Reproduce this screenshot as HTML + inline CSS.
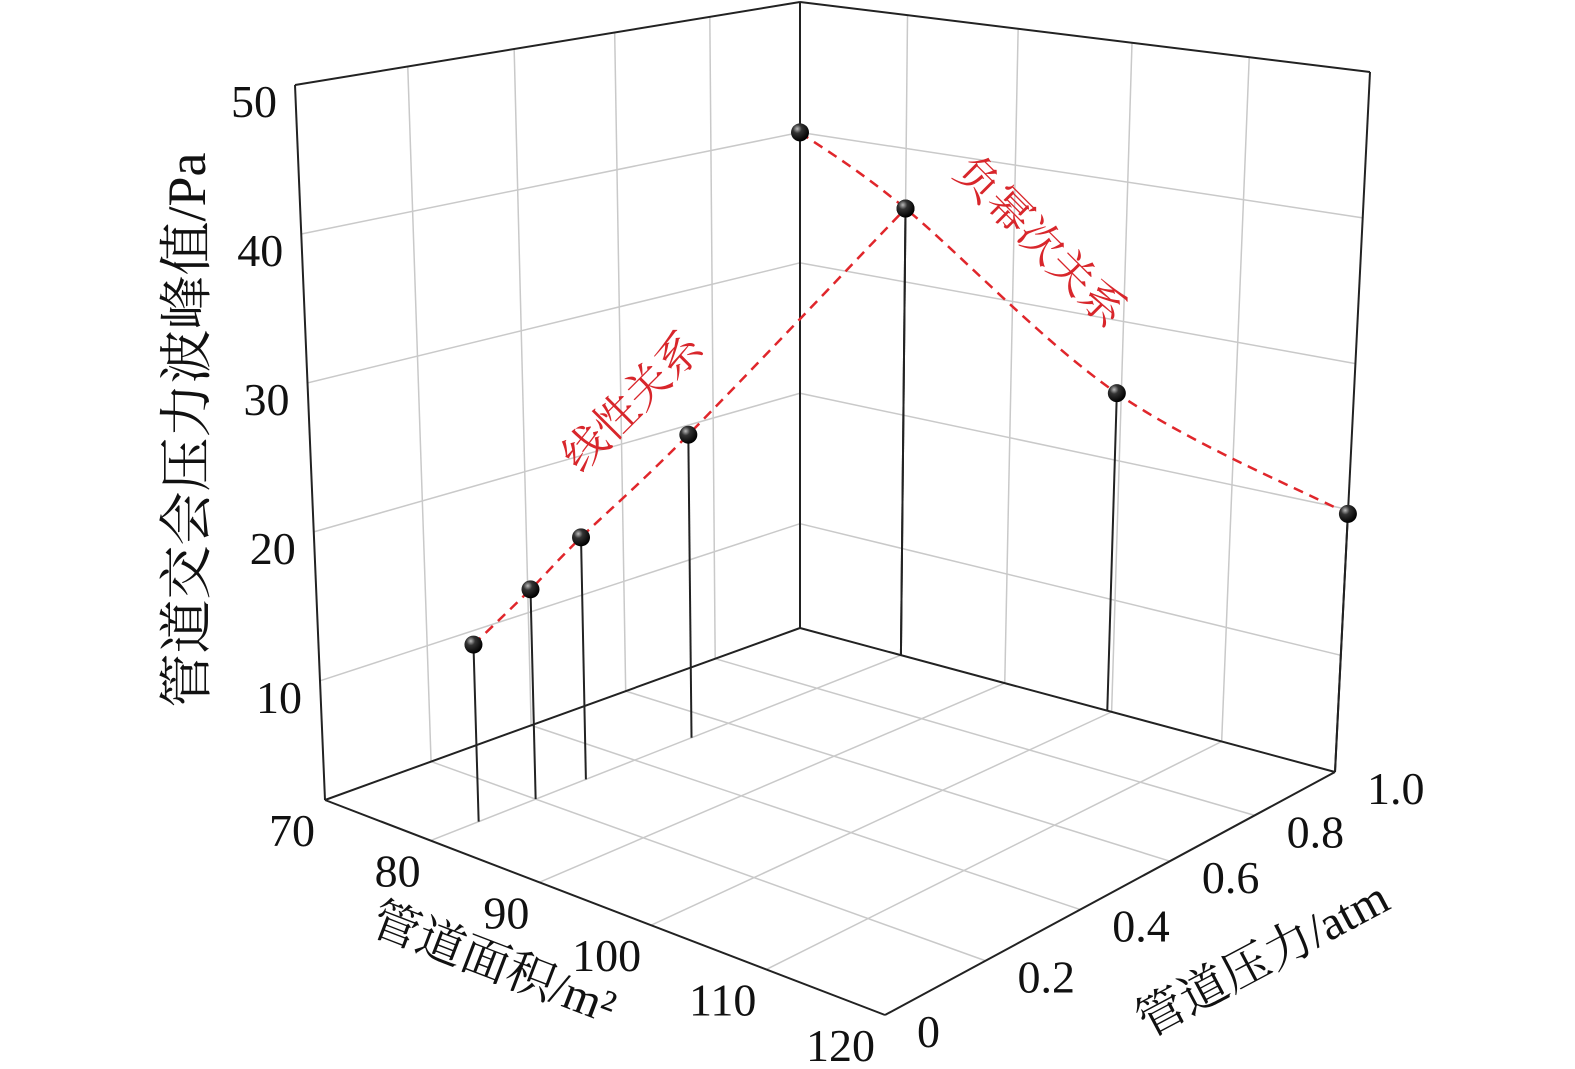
<!DOCTYPE html>
<html><head><meta charset="utf-8"><style>
html,body{margin:0;padding:0;background:#fff}
svg{display:block}
text{font-family:"Liberation Serif","Noto Serif CJK SC",serif;fill:#111}
.cjk{font-family:"Liberation Serif","Noto Serif CJK SC","Noto Sans CJK SC",serif}
</style></head><body>
<svg id="chart" width="1575" height="1069" viewBox="0 0 1575 1069" xmlns="http://www.w3.org/2000/svg">
<defs>
<radialGradient id="ball" cx="0.35" cy="0.3" r="0.7">
<stop offset="0" stop-color="#bbb"/><stop offset="0.35" stop-color="#333"/><stop offset="1" stop-color="#000"/>
</radialGradient>
</defs>
<g id="grid"></g>
<g id="frame"></g>
<g id="marks"></g>
<g id="labels"></g>
<text class="cjk" transform="translate(205,430) rotate(-90)" text-anchor="middle" font-size="54">管道交会压力波峰值/Pa</text>
<text class="cjk" transform="translate(488,978) rotate(21)" text-anchor="middle" font-size="48">管道面积/m²</text>
<text class="cjk" transform="translate(1270,973) rotate(-28)" text-anchor="middle" font-size="48">管道压力/atm</text>
<text class="cjk" transform="translate(643,412) rotate(-45)" text-anchor="middle" font-size="44" style="fill:#d8262b">线性关系</text>
<text class="cjk" transform="translate(1030,252) rotate(45)" text-anchor="middle" font-size="44" style="fill:#d8262b">负幂次关系</text>
</svg>
<script>
const linArea=[80,80,80,80,80];
const linPress=[0.09,0.2,0.3,0.52,1.0];
const linZ=[13.8,16.2,18.6,23.4,35.5];
const powArea=[70,80,99.6,120];
const powPress=[1,1,1,1];
const powZ=[40,35.5,24.8,19.7];
const zTicks=[10,20,30,40,50];
const areaTicks=[70,80,90,100,110,120];
const pressTicks=[0,0.2,0.4,0.6,0.8,1.0];
const pressLabels=["0","0.2","0.4","0.6","0.8","1.0"];
const zmin=2,zmax=50;
const L=[325,800],F=[885,1015],B=[800,628],R=[1335,772];
const Lt=[295,85],Ft=[885,225],Bt=[800,2],Rt=[1370,72];
function bil(a,b,c,d,s,t,i){return (1-s)*(1-t)*a[i]+s*(1-t)*b[i]+(1-s)*t*c[i]+s*t*d[i];}
function warp(u,k){return u*k/(1+(k-1)*u);}
function P(a,p,z){const s=warp((a-70)/50,0.93),t=warp(p,1.15),w=(z-zmin)/(zmax-zmin);
 const bx=bil(L,F,B,R,s,t,0),by=bil(L,F,B,R,s,t,1),tx=bil(Lt,Ft,Bt,Rt,s,t,0),ty=bil(Lt,Ft,Bt,Rt,s,t,1);
 return [bx+(tx-bx)*w,by+(ty-by)*w];}
const NS="http://www.w3.org/2000/svg";
function line(g,p1,p2,stroke,sw,name){const e=document.createElementNS(NS,'line');
 e.setAttribute('x1',p1[0]);e.setAttribute('y1',p1[1]);e.setAttribute('x2',p2[0]);e.setAttribute('y2',p2[1]);
 e.setAttribute('stroke',stroke);e.setAttribute('stroke-width',sw);
 
 
 g.appendChild(e);return e;}
const grid=document.getElementById('grid'),frame=document.getElementById('frame'),marks=document.getElementById('marks'),labels=document.getElementById('labels');
const gc="#c9c9c9";
pressTicks.slice(1,-1).forEach(p=>line(grid,P(70,p,zmin),P(70,p,zmax),gc,1.5,'left-wall-gridline'));
zTicks.slice(0,-1).forEach(z=>line(grid,P(70,0,z),P(70,1,z),gc,1.5,'left-wall-gridline'));
areaTicks.slice(1,-1).forEach(a=>line(grid,P(a,1,zmin),P(a,1,zmax),gc,1.5,'back-wall-gridline'));
zTicks.slice(0,-1).forEach(z=>line(grid,P(70,1,z),P(120,1,z),gc,1.5,'back-wall-gridline'));
areaTicks.slice(1,-1).forEach(a=>line(grid,P(a,0,zmin),P(a,1,zmin),gc,1.5,'floor-gridline'));
pressTicks.slice(1,-1).forEach(p=>line(grid,P(70,p,zmin),P(120,p,zmin),gc,1.5,'floor-gridline'));
const fc="#222";
[[L,Lt],[Lt,Bt],[B,Bt],[Bt,Rt],[Rt,R],[L,B],[B,R],[L,F],[F,R]].forEach(e=>line(frame,e[0],e[1],fc,2,'box-edge'));
function dpath(pts,name){let d="M"+pts[0][0]+","+pts[0][1];
 for(let i=0;i<pts.length-1;i++){const p0=pts[Math.max(0,i-1)],p1=pts[i],p2=pts[i+1],p3=pts[Math.min(pts.length-1,i+2)];
  const c1=[p1[0]+(p2[0]-p0[0])/6,p1[1]+(p2[1]-p0[1])/6],c2=[p2[0]-(p3[0]-p1[0])/6,p2[1]-(p3[1]-p1[1])/6];
  d+=" C"+c1+" "+c2+" "+p2;}
 const e=document.createElementNS(NS,'path');e.setAttribute('d',d);e.setAttribute('fill','none');
 e.setAttribute('stroke','#e0262b');e.setAttribute('stroke-width',2.5);e.setAttribute('stroke-dasharray','10,7');
 
 
 marks.appendChild(e);}
function stems(A,Pp,Z,name){A.forEach((a,i)=>{line(marks,P(a,Pp[i],zmin),P(a,Pp[i],Z[i]),'#222',2,name+'-stem');});}
stems(linArea,linPress,linZ,'linear');stems(powArea,powPress,powZ,'power');
dpath(linArea.map((a,i)=>P(a,linPress[i],linZ[i])),'linear-fit-line');
dpath(powArea.map((a,i)=>P(a,powPress[i],powZ[i])),'power-fit-curve');
function balls(A,Pp,Z,name){A.forEach((a,i)=>{const q=P(a,Pp[i],Z[i]);const c=document.createElementNS(NS,'circle');
 c.setAttribute('cx',q[0]);c.setAttribute('cy',q[1]);c.setAttribute('r',9);c.setAttribute('fill','url(#ball)');
 
 
 marks.appendChild(c);});}
balls(linArea,linPress,linZ,'linear');balls(powArea,powPress,powZ,'power');
function txt(x,y,s,anchor,name){const e=document.createElementNS(NS,'text');e.setAttribute('x',x);e.setAttribute('y',y);
 e.setAttribute('font-size',46);e.setAttribute('text-anchor',anchor);e.textContent=s;
 
 
 labels.appendChild(e);}
zTicks.forEach(z=>{const q=P(70,0,z);txt(q[0]-18,q[1]+32,String(z),'end','z-tick-label');});
areaTicks.forEach(a=>{const q=P(a,0,zmin);txt(q[0]-10,q[1]+46,String(a),'end','area-tick-label');});
pressTicks.forEach((p,i)=>{const q=P(120,p,zmin);txt(q[0]+32,q[1]+32,pressLabels[i],'start','pressure-tick-label');});
</script>
</body></html>
